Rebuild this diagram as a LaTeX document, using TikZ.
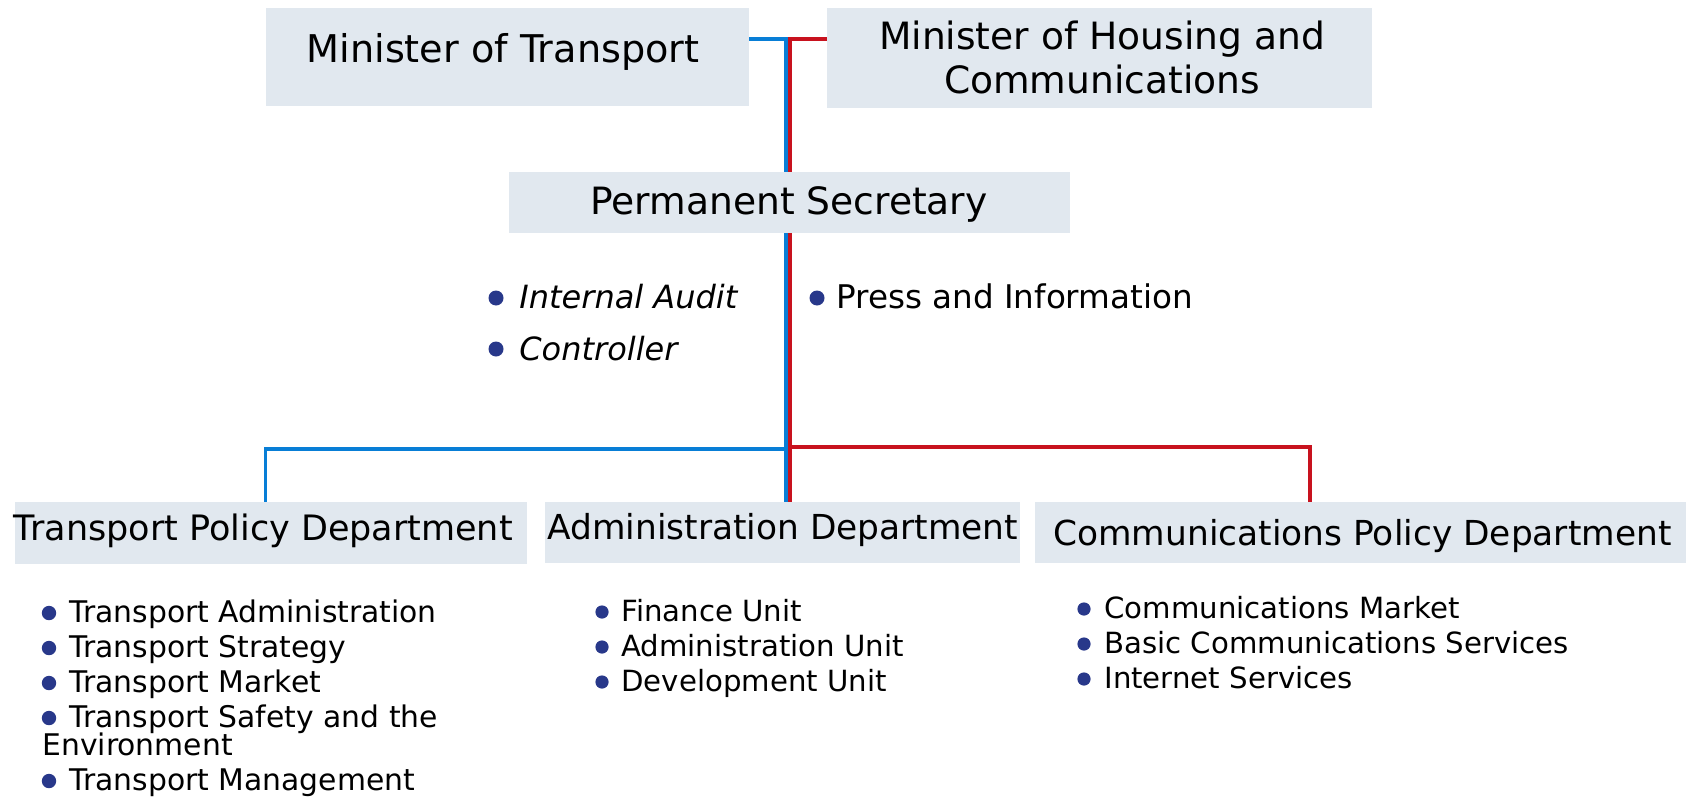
\documentclass[tikz,border=0pt]{standalone}
\usepackage{fontspec}
\setmainfont{DejaVu Sans}
\definecolor{boxfill}{RGB}{225,232,239}
\definecolor{lineblue}{RGB}{8,126,214}
\definecolor{linered}{RGB}{200,18,30}
\definecolor{bulletnavy}{RGB}{40,56,138}
\pgfdeclarelayer{bg}
\pgfsetlayers{bg,main}
\begin{document}
\begin{tikzpicture}[x=0.5pt,y=-0.5pt,
  box/.style={fill=boxfill,draw=none,inner sep=0pt,rectangle},
  toptext/.style={inner sep=0pt,anchor=base,font=\fontsize{18.8pt}{22pt}\selectfont},
  depttext/.style={inner sep=0pt,anchor=base west,font=\fontsize{17.4pt}{20pt}\selectfont},
  midtext/.style={inner sep=0pt,anchor=base west,font=\fontsize{16.3pt}{19pt}\selectfont},
  listtext/.style={inner sep=0pt,anchor=base west,font=\fontsize{14.6pt}{17pt}\selectfont},
  bl/.style={draw=lineblue,line width=1.8pt},
  rl/.style={draw=linered,line width=1.8pt},
  bigdot/.style={fill=bulletnavy},
]
\useasboundingbox (0,0) rectangle (1689,797);

% boxes
\node[box,minimum width=241.5pt,minimum height=49pt] (mt) at (507.5,57) {};
\node[box,minimum width=272.5pt,minimum height=50pt] (mh) at (1099.5,58) {};
\node[box,minimum width=280.5pt,minimum height=30.5pt] (ps) at (789.5,202.5) {};
\node[box,minimum width=256pt,minimum height=31pt] (tpd) at (271,533) {};
\node[box,minimum width=237.5pt,minimum height=30.5pt] (ad) at (782.5,532.5) {};
\node[box,minimum width=325.5pt,minimum height=30.5pt] (cpd) at (1360.5,532.5) {};

% box texts
\node[toptext,font=\fontsize{19.1pt}{22pt}\selectfont] (mtT) at (503,63) {Minister of Transport};
\node[toptext] (mhT1) at (1102,50) {Minister of Housing and};
\node[toptext] (mhT2) at (1102,94) {Communications};
\node[toptext] (psT) at (789,214) {Permanent Secretary};
\node[depttext,font=\fontsize{17.5pt}{20pt}\selectfont] (tpdT) at (13.5,540) {Transport Policy Department};
\node[depttext,font=\fontsize{17.2pt}{20pt}\selectfont] (adT) at (547,539) {Administration Department};
\node[depttext,font=\fontsize{17.2pt}{20pt}\selectfont] (cpdT) at (1053,545) {Communications Policy Department};

% connectors
\coordinate (bT) at (786,39);
\coordinate (rT) at (790,39);
\coordinate (bB) at (786,449);
\coordinate (rB) at (790,447);
\coordinate (bL) at (265.5,449);
\coordinate (rR) at (1310,447);
\begin{pgfonlayer}{bg}
\fill[white] (0,0) rectangle (1689,797);
\draw[bl] (mt.east |- bT) -- (bT) -- (bT |- ad.north);
\draw[bl] (bB) -- (bL) -- (bL |- tpd.north);
\draw[rl] (mh.west |- rT) -- (rT) -- (rT |- ad.north);
\draw[rl] (rB) -- (rR) -- (rR |- cpd.north);
\end{pgfonlayer}

% staff units
\fill[bigdot] (496,298) circle[radius=3.75pt];
\node[midtext,font=\fontsize{16pt}{19pt}\selectfont\itshape] (ia) at (519,308) {Internal Audit};
\fill[bigdot] (496,349) circle[radius=3.75pt];
\node[midtext,font=\fontsize{16pt}{19pt}\selectfont\itshape] (ctl) at (519,360) {Controller};
\fill[bigdot] (817,298) circle[radius=3.75pt];
\node[midtext] (pi) at (836,308) {Press and Information};

% transport list
\foreach \y/\t [count=\i] in {622/Transport Administration,657/Transport Strategy,692/Transport Market,727/Transport Safety and the,790/Transport Management}{
  \fill[bigdot] (49,\y-9) circle[radius=3.6pt];
  \node[listtext,font=\fontsize{14.9pt}{17pt}\selectfont] (tl\i) at (69,\y) {\t};
}
\node[listtext,font=\fontsize{14.9pt}{17pt}\selectfont] (tlenv) at (42,755) {Environment};

% administration list
\foreach \y/\t [count=\i] in {621/Finance Unit,656/Administration Unit,691/Development Unit}{
  \fill[bigdot] (602,\y-9) circle[radius=3.3pt];
  \node[listtext] (al\i) at (621,\y) {\t};
}

% communications list
\foreach \y/\t [count=\i] in {618/Communications Market,653/Basic Communications Services,688/Internet Services}{
  \fill[bigdot] (1084,\y-9) circle[radius=3.3pt];
  \node[listtext] (cl\i) at (1104,\y) {\t};
}
\end{tikzpicture}
\end{document}
